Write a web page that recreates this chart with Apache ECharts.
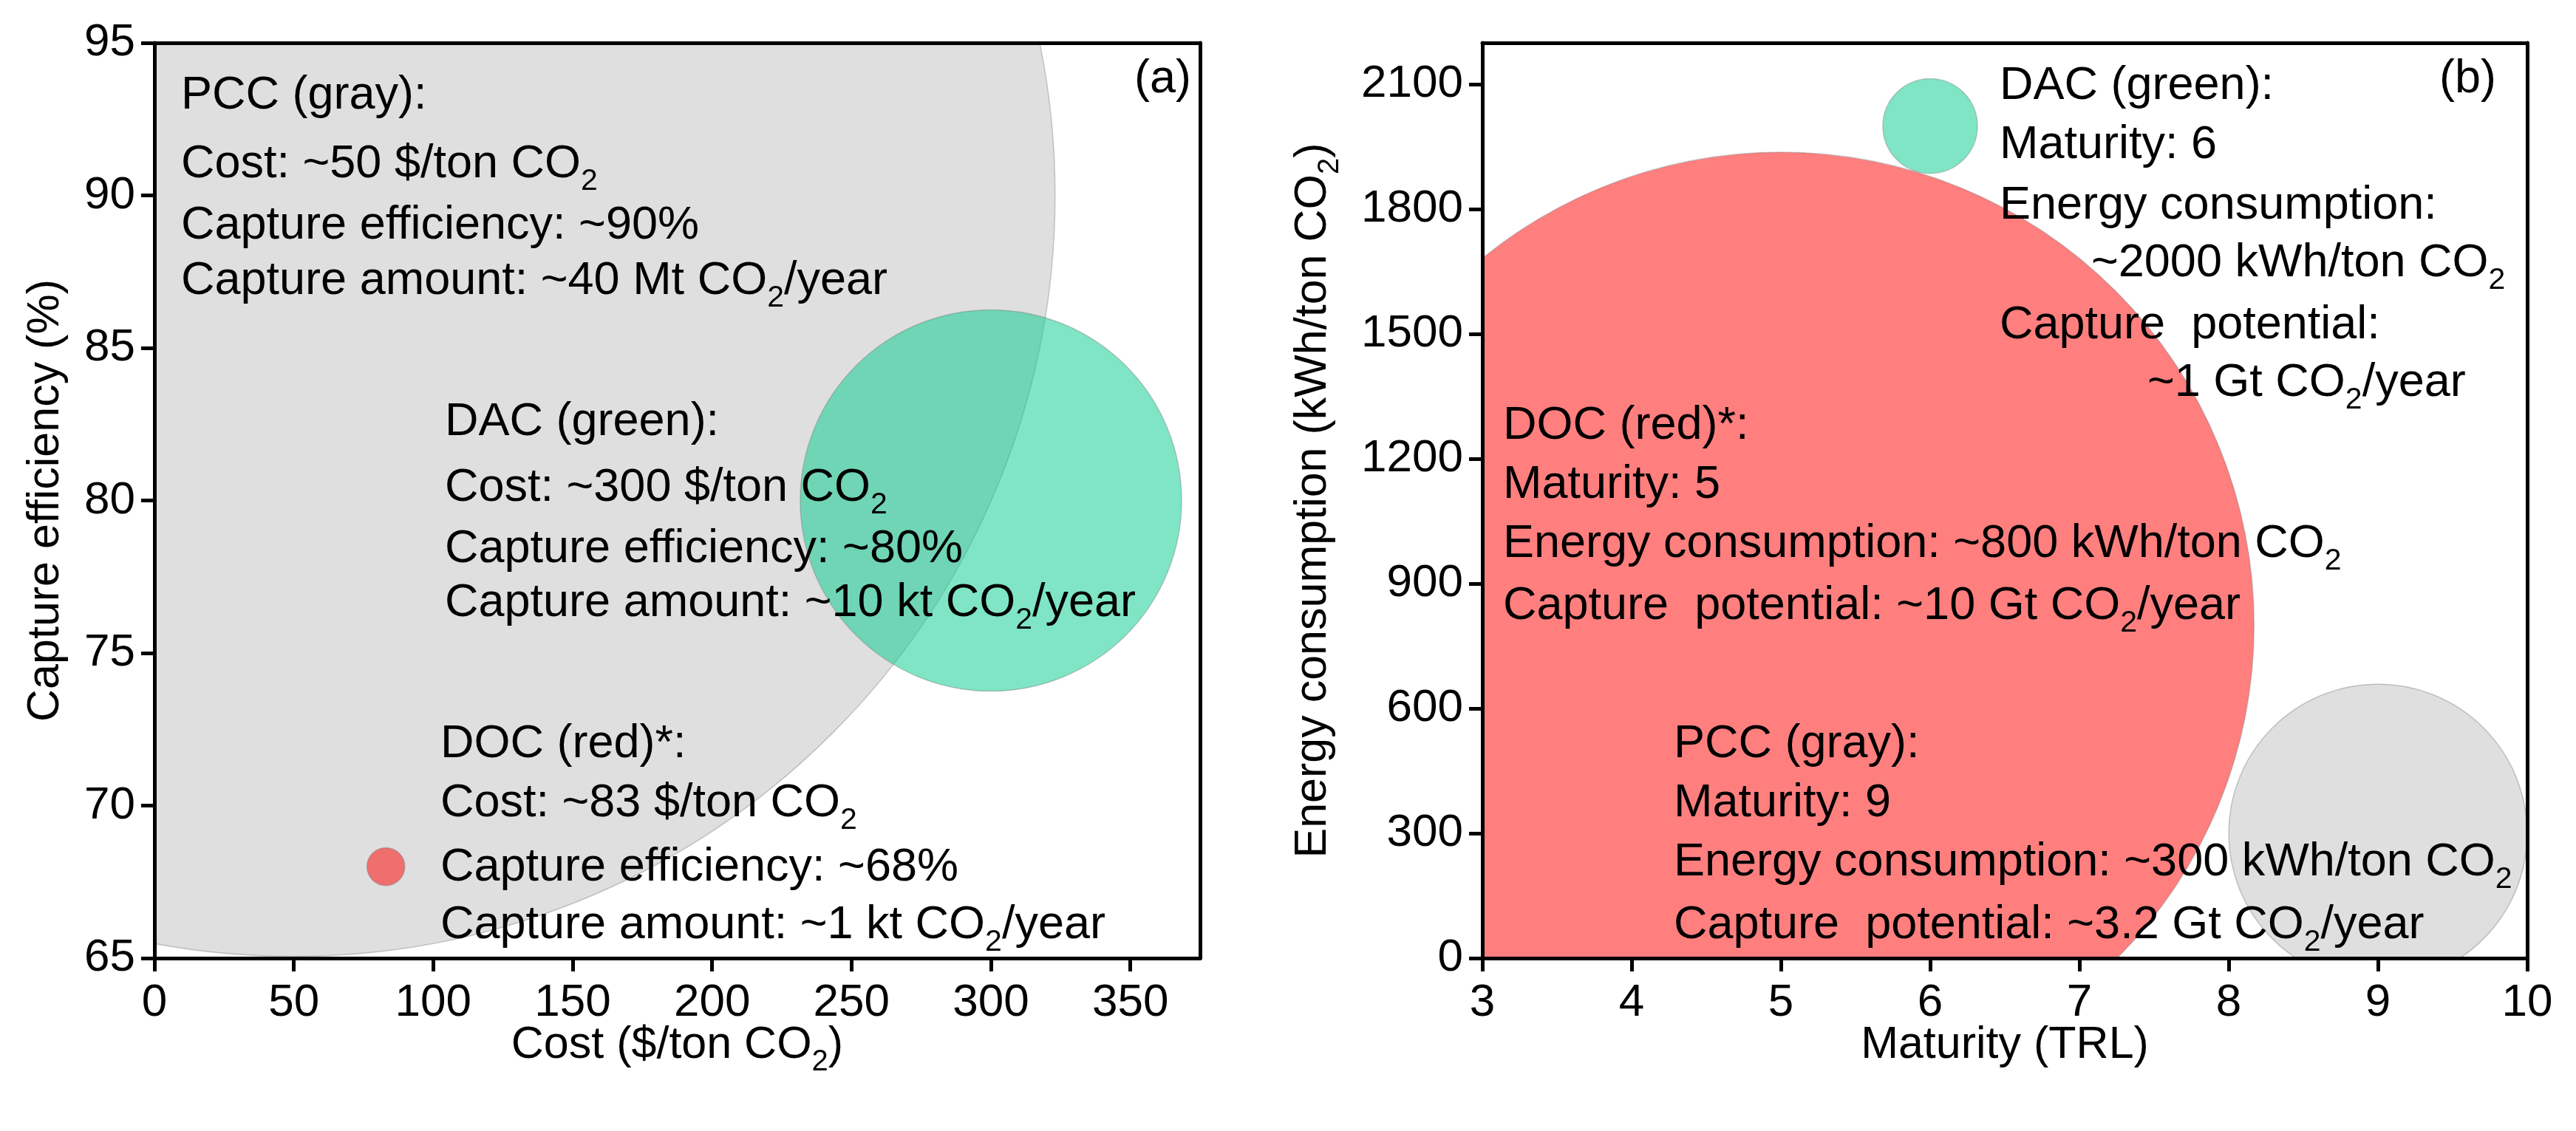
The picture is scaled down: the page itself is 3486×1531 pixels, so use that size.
<!DOCTYPE html>
<html>
<head>
<meta charset="utf-8">
<title>Carbon capture comparison</title>
<script src="https://cdn.jsdelivr.net/npm/echarts@6/dist/echarts.min.js"></script>
<style>
  html, body { margin: 0; padding: 0; background: #fff; }
  #chart { width: 3486px; height: 1531px; }
</style>
</head>
<body>
<div id="chart"></div>
<script>
// panel (a): cost vs capture efficiency
var techA = ['PCC', 'DAC', 'DOC'];
var costA = [50, 300, 83];
var efficiencyA = [90, 80, 68];
var radiusA = [273, 68.4, 6.8];      // bubble radius, in cost-axis units

// panel (b): maturity vs energy consumption
var techB = ['DOC', 'PCC', 'DAC'];
var maturityB = [5, 9, 6];
var energyB = [800, 300, 2000];
var radiusB = [3.17, 1.0, 0.317];    // bubble radius, in maturity-axis units

var costTicks = [0, 50, 100, 150, 200, 250, 300, 350];
var efficiencyTicks = [65, 70, 75, 80, 85, 90, 95];
var maturityTicks = [3, 4, 5, 6, 7, 8, 9, 10];
var energyTicks = [0, 300, 600, 900, 1200, 1500, 1800, 2100];

var FONT = '"Liberation Sans", Arial, sans-serif';
var bubbleColors = {
  PCC: 'rgba(192,192,192,0.5)',
  DAC: 'rgba(0,204,140,0.5)',
  DOC: 'rgba(255,0,0,0.5)'
};

var chart = echarts.init(document.getElementById('chart'));

// "CO_2" -> rich text with a subscript 2
function rich(t) {
  return t.split('_2').map(function (p) {
    return p ? '{n|' + p + '}' : '';
  }).join('{s|2}');
}

function richStyle(size, sub) {
  return {
    n: { fontSize: size, fontFamily: FONT, color: '#000', fill: '#000', lineHeight: size + 12, verticalAlign: 'top' },
    s: { fontSize: sub, fontFamily: FONT, color: '#000', fill: '#000', verticalAlign: 'bottom' }
  };
}

var noteRich = richStyle(63, 41);

function note(x, cy, t, align) {
  return {
    type: 'text',
    x: x,
    y: cy - 31,
    z: 100,
    style: {
      text: rich(t),
      rich: noteRich,
      fill: '#000',
      align: align || 'left',
      textAlign: align || 'left',
      verticalAlign: 'top',
      textVerticalAlign: 'top'
    }
  };
}

var notes = [
  // (a) PCC
  note(245, 129, 'PCC (gray):'),
  note(245, 222, 'Cost: ~50 $/ton CO_2'),
  note(245, 305, 'Capture efficiency: ~90%'),
  note(245, 380, 'Capture amount: ~40 Mt CO_2/year'),
  // (a) DAC
  note(602, 571, 'DAC (green):'),
  note(602, 660, 'Cost: ~300 $/ton CO_2'),
  note(602, 743, 'Capture efficiency: ~80%'),
  note(602, 816, 'Capture amount: ~10 kt CO_2/year'),
  // (a) DOC
  note(596, 1007, 'DOC (red)*:'),
  note(596, 1087, 'Cost: ~83 $/ton CO_2'),
  note(596, 1174, 'Capture efficiency: ~68%'),
  note(596, 1252, 'Capture amount: ~1 kt CO_2/year'),
  // (b) DAC
  note(2706, 116, 'DAC (green):'),
  note(2706, 196, 'Maturity: 6'),
  note(2706, 278, 'Energy consumption:'),
  note(2830, 356, '~2000 kWh/ton CO_2'),
  note(2706, 440, 'Capture  potential:'),
  note(2906, 518, '~1 Gt CO_2/year'),
  // (b) DOC
  note(2034, 576, 'DOC (red)*:'),
  note(2034, 656, 'Maturity: 5'),
  note(2034, 736, 'Energy consumption: ~800 kWh/ton CO_2'),
  note(2034, 820, 'Capture  potential: ~10 Gt CO_2/year'),
  // (b) PCC
  note(2265, 1007, 'PCC (gray):'),
  note(2265, 1087, 'Maturity: 9'),
  note(2265, 1167, 'Energy consumption: ~300 kWh/ton CO_2'),
  note(2265, 1252, 'Capture  potential: ~3.2 Gt CO_2/year'),
  // panel tags
  note(1612, 107, '(a)', 'right'),
  note(3378, 107, '(b)', 'right')
];

function mainAxis(gridIndex, pos, min, max, ticks, name, gap) {
  return {
    type: 'value',
    gridIndex: gridIndex,
    position: pos,
    min: min,
    max: max,
    z: 5,
    name: rich(name),
    nameLocation: 'middle',
    nameGap: gap,
    nameMoveOverlap: false,
    nameTextStyle: { fontSize: 61, fontFamily: FONT, color: '#000', rich: richStyle(61, 40) },
    axisLine: { show: true, onZero: false, lineStyle: { color: '#000', width: 5 } },
    axisTick: { show: true, customValues: ticks, length: 18, lineStyle: { color: '#000', width: 5 } },
    axisLabel: {
      show: true,
      customValues: ticks,
      margin: pos === 'bottom' ? 30 : 26,
      fontSize: 62,
      fontFamily: FONT,
      color: '#000',
      formatter: function (v) { return String(v); }
    },
    splitLine: { show: false }
  };
}

function frameAxis(gridIndex, pos, min, max) {
  return {
    type: 'value',
    gridIndex: gridIndex,
    position: pos,
    min: min,
    max: max,
    z: 5,
    axisLine: { show: true, onZero: false, lineStyle: { color: '#000', width: 5 } },
    axisTick: { show: false },
    axisLabel: { show: false },
    splitLine: { show: false }
  };
}

function bubbles(axisIndex, xs, ys, rs, names) {
  return {
    type: 'custom',
    xAxisIndex: axisIndex,
    yAxisIndex: axisIndex,
    clip: true,
    z: 1,
    data: xs.map(function (x, i) { return [x, ys[i], rs[i]]; }),
    renderItem: function (params, api) {
      var c = api.coord([api.value(0), api.value(1)]);
      var r = api.size([api.value(2), 0])[0];
      return {
        type: 'circle',
        shape: { cx: c[0], cy: c[1], r: r },
        style: {
          fill: bubbleColors[names[params.dataIndex]],
          stroke: 'rgba(110,110,110,0.35)',
          lineWidth: 1.5
        }
      };
    }
  };
}

chart.setOption({
  animation: false,
  backgroundColor: '#fff',
  grid: [
    { left: 209, top: 58, width: 1415, height: 1239 },
    { left: 2006, top: 58, width: 1414, height: 1239 }
  ],
  xAxis: [
    mainAxis(0, 'bottom', 0, 375, costTicks, 'Cost ($/ton CO_2)', 88),
    frameAxis(0, 'top', 0, 375),
    mainAxis(1, 'bottom', 3, 10, maturityTicks, 'Maturity (TRL)', 88),
    frameAxis(1, 'top', 3, 10)
  ],
  yAxis: [
    mainAxis(0, 'left', 65, 95, efficiencyTicks, 'Capture efficiency (%)', 104),
    frameAxis(0, 'right', 65, 95),
    mainAxis(1, 'left', 0, 2200, energyTicks, 'Energy consumption (kWh/ton CO_2)', 186),
    frameAxis(1, 'right', 0, 2200)
  ],
  series: [
    bubbles(0, costA, efficiencyA, radiusA, techA),
    bubbles(2, maturityB, energyB, radiusB, techB)
  ],
  graphic: notes
});
</script>
</body>
</html>
